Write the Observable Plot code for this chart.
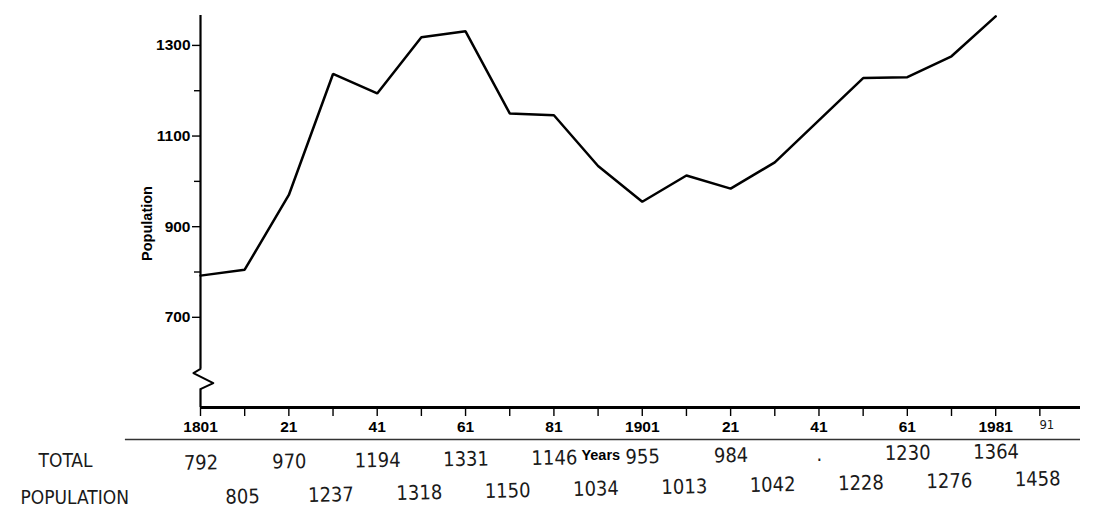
<!DOCTYPE html>
<html><head><meta charset="utf-8">
<script src="https://cdn.jsdelivr.net/npm/d3@7"></script>
<script src="https://cdn.jsdelivr.net/npm/@observablehq/plot@0.6"></script>
<style>body{margin:0;background:#fff;} #chart{width:1100px;height:529px;}</style>
</head><body><div id="chart"></div>
<script>
// Census years and handwritten totals (1941: no census, written as ".")
const censusYears = [1801,1811,1821,1831,1841,1851,1861,1871,1881,1891,1901,1911,1921,1931,1941,1951,1961,1971,1981,1991];
const censusLabels = ["792","805","970","1237","1194","1318","1331","1150","1146","1034","955","1013","984","1042",".","1228","1230","1276","1364","1458"];
// Plotted line (ends at 1981, 1941 absent)
const lineYears = [1801,1811,1821,1831,1841,1851,1861,1871,1881,1891,1901,1911,1921,1931,1951,1961,1971,1981];
const linePopulation = [792,805,970,1237,1194,1318,1331,1150,1146,1034,955,1013,984,1042,1228,1230,1276,1364];
// Axis ticks
const xTickYears = [1801,1811,1821,1831,1841,1851,1861,1871,1881,1891,1901,1911,1921,1931,1941,1951,1961,1971,1981,1991];
const xTickLabels = {1801:"1801",1821:"21",1841:"41",1861:"61",1881:"81",1901:"1901",1921:"21",1941:"41",1961:"61",1981:"1981"};
const extraTick = {year: 1991, label: "91"};
const yMajorTicks = [700,900,1100,1300];
const yMinorTicks = [800,1000,1200];
// Scale extents
const xDomain = [1801, 2000.2];
const yDomain = [501, 1366];
// Axis break (zigzag) in data units
const breakYears = [1801, 1799.4, 1803.9, 1801.1];
const breakValues = [586, 577, 555, 542];

const lineData = lineYears.map((y,i)=>({year:y, pop:linePopulation[i]}));
const census = censusYears.map((y,i)=>({year:y, label:censusLabels[i]}));
const topRow = census.filter((d,i)=>i%2===0);
const bottomRow = census.filter((d,i)=>i%2===1);
const breakPts = breakYears.map((y,i)=>({year:y, v:breakValues[i]}));

const hand = {fontFamily:"Liberation Sans Narrow, DejaVu Sans Condensed, Open Sans, sans-serif", fontWeight:"normal", fill:"#1a1a1a"};

const plot = Plot.plot({
  width: 1100, height: 529,
  marginLeft: 200, marginRight: 20, marginTop: 15, marginBottom: 122,
  style: {fontFamily: "Liberation Sans, Arial, sans-serif", background: "#fff", color: "#000", overflow: "visible"},
  x: {type: "linear", domain: xDomain},
  y: {type: "linear", domain: yDomain},
  marks: [
    // y axis line with break
    Plot.ruleX([1801], {y1: breakValues[0], y2: yDomain[1], stroke: "#000", strokeWidth: 2.2}),
    Plot.line(breakPts, {x: "year", y: "v", stroke: "#000", strokeWidth: 2, curve: "linear"}),
    Plot.ruleX([1801], {y1: yDomain[0], y2: breakValues[3], stroke: "#000", strokeWidth: 2.2}),
    // x axis line
    Plot.ruleY([yDomain[0]], {stroke: "#000", strokeWidth: 3}),
    // separator line
    Plot.ruleY([yDomain[0]], {x1: 1784, x2: xDomain[1], dy: 32, stroke: "#333", strokeWidth: 1.3}),
    Plot.axisY({ticks: yMajorTicks, tickSize: 8, tickPadding: 2, fontSize: 15.5, fontWeight: "bold", label: null, strokeWidth: 1.4,
      tickFormat: d => String(d)}),
    Plot.axisY({ticks: yMinorTicks, tickSize: 6, tickFormat: () => "", label: null, strokeWidth: 1.4}),
    Plot.axisX({ticks: xTickYears, tickSize: 9, tickPadding: 4, fontSize: 15.5, fontWeight: "bold", label: null, strokeWidth: 1.4,
      tickFormat: d => xTickLabels[d] ?? ""}),
    Plot.text([extraTick], {x: "year", text: "label", frameAnchor: "bottom", dy: 21, fontSize: 13, dx: 7, ...hand}),
    // y label
    Plot.text(["Population"], {frameAnchor: "left", textAnchor: "middle", rotate: -90, dx: -53, dy: 12, fontSize: 14.5, fontWeight: "bold"}),
    // x label
    Plot.text(["Years"], {x: [1891.6], frameAnchor: "bottom", dy: 52, fontSize: 14.5, fontWeight: "bold"}),
    // data line
    Plot.line(lineData, {x: "year", y: "pop", stroke: "#000", strokeWidth: 2.5, strokeLinejoin: "miter"}),
    // handwritten table
    Plot.text(["TOTAL"], {frameAnchor: "bottom-left", textAnchor: "start", dx: -162, dy: 59, fontSize: 19, letterSpacing: "3px", ...hand}),
    Plot.text(["POPULATION"], {frameAnchor: "bottom-left", textAnchor: "start", dx: -180, dy: 96, fontSize: 19, ...hand}),
    Plot.text(topRow, {x: "year", text: "label", frameAnchor: "bottom", dx: 0.5, dy: 56.5, fontSize: 20, ...hand, ariaDescription: "top-row"}),
    Plot.text(bottomRow, {x: "year", text: "label", frameAnchor: "bottom", dx: -2, dy: 87, fontSize: 20, ...hand, ariaDescription: "bottom-row"})
  ]
});
document.getElementById("chart").appendChild(plot);
function tilt(desc, angle, cx, cy){
  const g = plot.querySelector(`g[aria-description="${desc}"]`);
  if (!g) return;
  const t = g.getAttribute("transform") || "";
  g.setAttribute("transform", `rotate(${angle} ${cx} ${cy}) ${t}`);
}
tilt("top-row", -0.79, 600, 463);
tilt("bottom-row", -1.27, 642, 494);
</script>
</body></html>
